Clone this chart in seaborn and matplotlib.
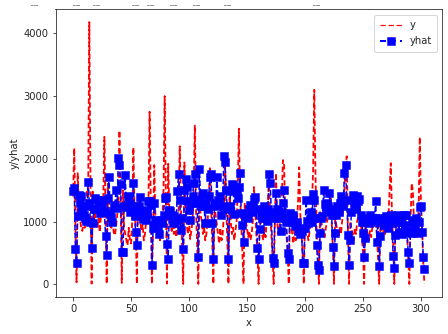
import numpy as np
import pandas as pd
import matplotlib
matplotlib.use("Agg")
import matplotlib.pyplot as plt
import seaborn as sns

# values, one row per 13 step cycle or so
y_vals = [
    1400, 2170, 1000, 30, 1770, 1300, 1050, 900, 850, 1000, 900, 1100, 1500, 1400, 4180, 1700,
    10, 1500, 1000, 1150, 950, 900, 1050, 830, 1100, 1200, 1300, 2350, 1200,
    5, 1600, 1100, 1000, 900, 1050, 830, 780, 900, 1100, 1300, 2450, 1400,
    20, 1500, 900, 800, 700, 620, 900, 700, 650, 1000, 2180, 1200, 900,
    5, 1400, 1100, 1000, 850, 950, 700, 800, 1000, 1200, 1300, 2750, 1300,
    5, 900, 1900, 1100, 950, 800, 900, 700, 850, 1000, 1500, 3000, 1400,
    10, 1920, 1200, 1000, 850, 950, 800, 1000, 750, 900, 1200, 2200, 1300, 600,
    5, 1940, 1300, 950, 800, 1000, 720, 850, 1000, 1500, 2530, 1200, 600,
    5, 1500, 1100, 1000, 800, 900, 700, 800, 1000, 1300, 1850, 1300, 700,
    5, 1300, 1100, 950, 800, 650, 900, 700, 800, 1100, 2000, 1300, 700,
    5, 1400, 1000, 800, 900, 700, 850, 1000, 1500, 2480, 1400, 1000, 500,
    5, 1300, 1000, 900, 750, 850, 700, 800, 1000, 1550, 1200, 800, 500,
    5, 1200, 950, 800, 700, 900, 750, 1000, 1300, 1650, 1100, 800, 450,
    5, 1000, 1770, 1000, 800, 900, 1100, 1400, 1980, 1900, 1000, 800, 500,
    5, 1100, 950, 800, 650, 900, 700, 1000, 1300, 1865, 1100, 800, 500,
    5, 1050, 900, 800, 700, 850, 1000, 1300, 1800, 3100, 1800, 900, 600,
    5, 1150, 1000, 900, 800, 750, 900, 1000, 1100, 1200, 1500, 1000, 600,
    5, 1100, 950, 850, 750, 900, 800, 1000, 1200, 1500, 1900, 2040, 900,
    5, 1000, 900, 800, 700, 900, 800, 1000, 1100, 1350, 1000, 800, 500,
    5, 1000, 900, 800, 700, 850, 750, 900, 1000, 1100, 1000, 800, 400,
    5, 950, 850, 750, 900, 800, 850, 1000, 1100, 1500, 1930, 1100, 700,
    5, 1000, 900, 800, 850, 750, 900, 800, 950, 1100, 1000, 800, 400,
    5, 1000, 1610, 1500, 1000, 850, 750, 900, 1200, 2346, 1300, 900, 300, 10,
]
yhat_vals = [
    1480, 1530, 560, 345, 1090, 1420, 1300, 1400, 1180, 1100, 1060, 1010, 1240, 1630, 1300, 1000,
    580, 980, 1200, 1380, 1200, 1340, 1280, 1130, 1200, 1250, 1340, 1150, 770,
    470, 1380, 1705, 1120, 1070, 1000, 1230, 1260, 1500, 1220, 2010, 1895, 1595,
    515, 520, 1240, 1740, 1230, 1400, 1300, 1150, 1200, 1250, 1610, 1080, 830,
    625, 1150, 1240, 1390, 1170, 1040, 1180, 1090, 1030, 1150, 1330, 1325, 1270,
    310, 900, 1300, 1020, 980, 900, 800, 1000, 1020, 980, 1100, 1380, 1390,
    640, 405, 1190, 1170, 1100, 970, 1080, 1000, 1030, 1490, 1755, 1340, 865, 1050,
    560, 1500, 1675, 1550, 1320, 1180, 1030, 1300, 1400, 1620, 1750, 1350, 1300,
    430, 1830, 1340, 1250, 1450, 1240, 970, 1300, 1200, 1400, 1710, 1765, 970,
    405, 1300, 1250, 1710, 1350, 1280, 1400, 1100, 1240, 2045, 1950, 1500, 1200,
    405, 1250, 1480, 1600, 1580, 1115, 1530, 1470, 1380, 1550, 1775, 1130, 945,
    670, 1080, 1120, 1090, 1060, 1200, 1270, 1150, 1230, 1360, 1385, 1200, 575,
    400, 880, 1100, 1050, 1180, 1250, 1050, 1010, 1200, 1750, 1610, 1150, 425,
    340, 1050, 1460, 1200, 1100, 1050, 855, 1150, 1300, 1510, 1050, 1000, 500,
    410, 1130, 1060, 1000, 1100, 950, 930, 1000, 850, 880, 800, 850, 335,
    345, 900, 1340, 1010, 970, 1040, 1150, 1000, 1440, 1340, 1060, 625, 310,
    230, 815, 1060, 1080, 1500, 1280, 1150, 1300, 1250, 1460, 1200, 1100, 600,
    285, 810, 1100, 1250, 1150, 1300, 1400, 1330, 1250, 1775, 1895, 1350, 785,
    300, 705, 1150, 1430, 1250, 1300, 1200, 1400, 1320, 1360, 1100, 1000, 810,
    430, 730, 1000, 1050, 980, 1100, 1000, 1060, 1020, 1050, 1325, 680, 1050,
    285, 770, 1000, 1030, 950, 1050, 1080, 1000, 900, 1050, 1100, 980, 450,
    255, 785, 1000, 1100, 830, 1050, 990, 800, 1100, 950, 1100, 830, 510,
    345, 820, 1000, 850, 1030, 900, 1050, 810, 1000, 1235, 1245, 830, 430, 245,
]
x_vals = list(range(len(y_vals)))

# bits of a cut off title along the top edge
top_marks_px = [35, 77, 97, 136, 151, 174, 197, 228, 317]

df = pd.DataFrame({"x": x_vals, "y": y_vals, "yhat": yhat_vals})

sns.set_style("ticks")
plt.rcParams["font.family"] = ["DejaVu Sans"]

W, H = 448, 334
fig = plt.figure(figsize=(W / 72, H / 72), dpi=72)
ax = fig.add_axes([55.5 / W, 1 - 297 / H, (442 - 55.5) / W, (297 - 9) / H])

sns.lineplot(data=df, x="x", y="y", color="r", linestyle=(0, (3, 1.5)), linewidth=1.8, label="y", ax=ax)
sns.lineplot(data=df, x="x", y="yhat", color="b", linestyle="--", linewidth=1.5, marker="s",
             markersize=7.5, markeredgecolor="b", markeredgewidth=0.5, label="yhat", ax=ax)

ax.set_xlabel("x", labelpad=4)
ax.set_ylabel("y/yhat", labelpad=4)
leg = ax.legend(loc="upper right", handlelength=2.2, borderpad=0.55, labelspacing=0.6,
                bbox_to_anchor=(0.988, 0.98), borderaxespad=0)
# legend lines are thinner for y and heavier for yhat than in the plot
leg.get_lines()[0].set_linewidth(1.2)
leg.get_lines()[0].set_linestyle((0, (4.5, 2.2)))
leg.get_lines()[1].set_linewidth(2)
leg.get_lines()[1].set_linestyle((0, (3, 2)))

for px in top_marks_px:
    fig.text(px / W, 1 - 4.2 / H, "___", fontsize=4.6, fontweight="bold", color="0.45",
             ha="center", va="baseline")

fig.savefig("out.png", dpi=72)
